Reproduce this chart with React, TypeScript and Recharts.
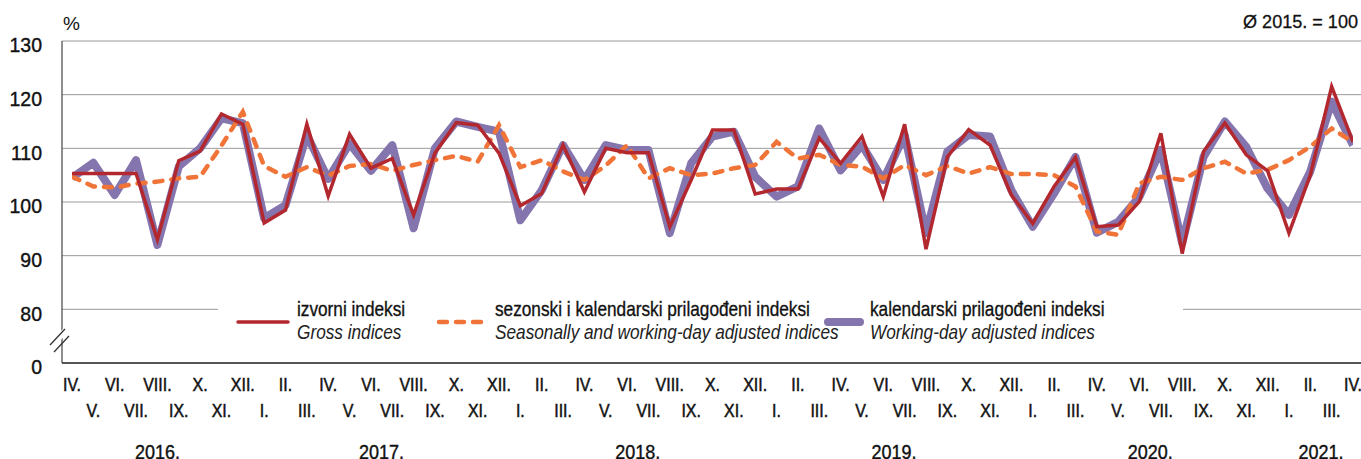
import React from "react";
import { LineChart, Line, XAxis, YAxis, CartesianGrid, Legend } from "recharts";

// months IV.2016 - IV.2021
const ROMAN = ["I.", "II.", "III.", "IV.", "V.", "VI.", "VII.", "VIII.", "IX.", "X.", "XI.", "XII."];
const MONTHS: string[] = [];
for (let k = 0; k < 61; k++) MONTHS.push(ROMAN[(k + 3) % 12]);

const YEARS = ["2016.", "2017.", "2018.", "2019.", "2020.", "2021."];
const YEAR_POS = [4, 14.5, 26.5, 38.5, 50.5, 58.5];

const Y_TICKS = [70, 80, 90, 100, 110, 120, 130];

// izvorni indeksi / Gross indices
const GROSS = [
  105.3, 105.3, 105.3, 105.3, 93.0, 107.7, 109.5, 116.4, 114.5,
  96.1, 98.5, 114.5, 101.1, 112.6, 106.3, 108.1, 97.6, 109.1, 114.8, 114.3, 109.1,
  99.3, 101.6, 110.6, 101.9, 110.0, 109.2, 109.2, 95.4, 104.1, 113.4, 113.4, 101.5,
  102.4, 102.4, 111.9, 107.2, 112.2, 101.0, 114.5, 91.2, 108.4, 113.5, 110.6, 101.3,
  96.0, 102.9, 108.3, 95.4, 95.7, 100.1, 112.8, 90.4, 109.4, 114.7, 108.8, 105.8,
  94.2, 105.0, 121.5, 111.2,
];

// sezonski i kalendarski prilagođeni indeksi
const SA = [
  104.7, 102.9, 102.7, 103.4, 103.8, 104.4, 104.7, 110.5, 116.8,
  106.7, 104.7, 106.5, 104.9, 106.7, 107.1, 105.8, 106.9, 107.8, 108.6, 107.5, 114.3,
  106.5, 107.8, 105.7, 104.1, 106.8, 110.6, 104.4, 106.3, 105.0, 105.3, 106.3, 106.9,
  111.2, 108.1, 108.8, 106.9, 106.6, 104.4, 106.9, 105.0, 106.7, 105.3, 106.5, 105.2,
  105.2, 105.0, 102.9, 94.5, 93.9, 103.5, 104.7, 104.1, 106.3, 107.5, 105.3, 106.0,
  107.8, 110.3, 113.7, 111.2,
];

// kalendarski prilagođeni indeksi
const WD = [
  104.5, 107.3, 101.3, 107.8, 92.0, 106.6, 110.0, 115.6, 114.7,
  97.0, 99.4, 112.5, 104.3, 110.9, 105.8, 110.6, 95.1, 110.0, 115.0, 114.0, 113.1,
  96.6, 102.2, 110.6, 104.1, 110.6, 109.7, 109.7, 94.2, 107.2, 112.2, 113.1, 104.7,
  101.0, 102.9, 113.7, 105.9, 110.6, 104.1, 112.5, 94.2, 109.4, 112.5, 112.2, 102.2,
  95.4, 101.6, 108.4, 94.3, 96.3, 101.0, 109.7, 92.3, 108.4, 115.0, 110.3, 102.5,
  97.6, 105.7, 118.7, 110.6,
];

const data = MONTHS.map((m, i) => ({ idx: i, month: m, gross: GROSS[i], sa: SA[i], wd: WD[i] }));

const FONT = "'Liberation Sans', Arial, Helvetica, sans-serif";
const RED = "#b3282e";
const ORANGE = "#f07438";
const PURPLE = "#8575ae";

const LEGEND = [
  { name: "izvorni indeksi", en: "Gross indices", color: RED, width: 3.5, dash: undefined, sx: 20, sw: 50, tx: 79 },
  { name: "sezonski i kalendarski prilagođeni indeksi", en: "Seasonally and working-day adjusted indices", color: ORANGE, width: 4.5, dash: "8 9", sx: 221, sw: 50, tx: 277 },
  { name: "kalendarski prilagođeni indeksi", en: "Working-day adjusted indices", color: PURPLE, width: 8, dash: undefined, sx: 610, sw: 32, tx: 652 },
];

const YTick = (props: any) => {
  const { x, y, payload } = props;
  return (
    <text transform={`translate(${x},${y + 4}) scale(0.93,1)`} textAnchor="end" dominantBaseline="central"
      fontSize={21} fontFamily={FONT} fill="#111" stroke="#111" strokeWidth={0.4}>
      {payload.value === 70 ? "0" : payload.value}
    </text>
  );
};

const MonthTick = (props: any) => {
  const { x, y, payload } = props;
  const i = Math.round(payload.value);
  return (
    <text transform={`translate(${x},${y + (i % 2 === 0 ? 22 : 48)}) scale(0.84,1)`} textAnchor="middle"
      dominantBaseline="central" fontSize={19} fontFamily={FONT} fill="#111" stroke="#111" strokeWidth={0.5}>
      {MONTHS[i]}
    </text>
  );
};

const YearTick = (props: any) => {
  const { x, y, payload } = props;
  const k = YEAR_POS.indexOf(payload.value);
  return (
    <text transform={`translate(${x},${y + 29}) scale(0.9,1)`} textAnchor="middle" dominantBaseline="central"
      fontSize={20} fontFamily={FONT} fill="#111" stroke="#111" strokeWidth={0.4}>
      {YEARS[k]}
    </text>
  );
};

const narrow: React.CSSProperties = {
  position: "absolute",
  fontSize: 21,
  lineHeight: "24px",
  whiteSpace: "nowrap",
  transform: "scaleX(0.82)",
  transformOrigin: "0 0",
};

const LegendBox = () => (
  <div style={{ position: "relative", width: 965, height: 54, background: "#fff", fontFamily: FONT, color: "#111" }}>
    {LEGEND.map((s) => (
      <React.Fragment key={s.name}>
        <svg style={{ position: "absolute", left: s.sx - 5, top: 22 }} width={s.sw + 10} height={20}>
          <line x1={5} y1={10} x2={s.sw + 5} y2={10} stroke={s.color} strokeWidth={s.width}
            strokeDasharray={s.dash} strokeLinecap="round" />
        </svg>
        <div style={{ ...narrow, left: s.tx, top: 7, WebkitTextStroke: "0.35px #111" }}>{s.name}</div>
        <div style={{ ...narrow, left: s.tx, top: 30, fontStyle: "italic", color: "#222" }}>{s.en}</div>
      </React.Fragment>
    ))}
  </div>
);

export default function App() {
  return (
    <div style={{ position: "absolute", left: 0, top: 0, width: 1361, height: 459, background: "#fff", overflow: "hidden" }}>
      <LineChart width={1361} height={459} data={data} margin={{ top: 41, right: 0, bottom: 0, left: 0 }}>
        <CartesianGrid vertical={false} stroke="#9a9a9a" strokeWidth={1} xAxisId="m" />
        <XAxis xAxisId="m" dataKey="idx" type="number" domain={[0, 60]} ticks={MONTHS.map((_, i) => i)} interval={0}
          padding={{ left: 10, right: 8 }} height={60} tickSize={0} tickMargin={0} tickLine={false}
          axisLine={{ stroke: "#555", strokeWidth: 2 }} tick={<MonthTick />} allowDataOverflow />
        <XAxis xAxisId="yr" dataKey="idx" type="number" domain={[0, 60]} ticks={YEAR_POS} interval={0}
          padding={{ left: 10, right: 8 }} height={36} tickSize={0} tickMargin={0} tickLine={false}
          axisLine={false} tick={<YearTick />} allowDataOverflow />
        <YAxis type="number" domain={[70, 130]} ticks={Y_TICKS} interval={0} width={62} tickSize={0} tickMargin={20}
          tickLine={false} axisLine={{ stroke: "#444", strokeWidth: 1.2 }} tick={<YTick />} allowDataOverflow />
        <Legend layout="horizontal" verticalAlign="middle" align="center" content={<LegendBox />}
          wrapperStyle={{ left: 218, top: 290, width: 965, height: 54 }} />
        <Line xAxisId="m" dataKey="wd" stroke={PURPLE} strokeWidth={8} strokeLinejoin="round" dot={false} activeDot={false} isAnimationActive={false} />
        <Line xAxisId="m" dataKey="sa" stroke={ORANGE} strokeWidth={4.5} strokeDasharray="8 9" strokeLinecap="round" dot={false} activeDot={false} isAnimationActive={false} />
        <Line xAxisId="m" dataKey="gross" stroke={RED} strokeWidth={3.5} dot={false} activeDot={false} isAnimationActive={false} />
      </LineChart>
      <div style={{ position: "absolute", left: 63, top: 13, fontFamily: FONT, fontSize: 19, color: "#111" }}>%</div>
      <div style={{ position: "absolute", right: 3, top: 11, fontFamily: FONT, fontSize: 19, color: "#111", transform: "scaleX(0.95)", transformOrigin: "100% 0", WebkitTextStroke: "0.3px #111" }}>Ø 2015. = 100</div>
      <svg style={{ position: "absolute", left: 0, top: 0, pointerEvents: "none" }} width={80} height={459}>
        <line x1={51} y1={346} x2={66} y2={330} stroke="#fff" strokeWidth={6} />
        <line x1={50} y1={345} x2={65} y2={329} stroke="#333" strokeWidth={1.3} />
        <line x1={54} y1={352} x2={69} y2={336} stroke="#333" strokeWidth={1.3} />
      </svg>
    </div>
  );
}
